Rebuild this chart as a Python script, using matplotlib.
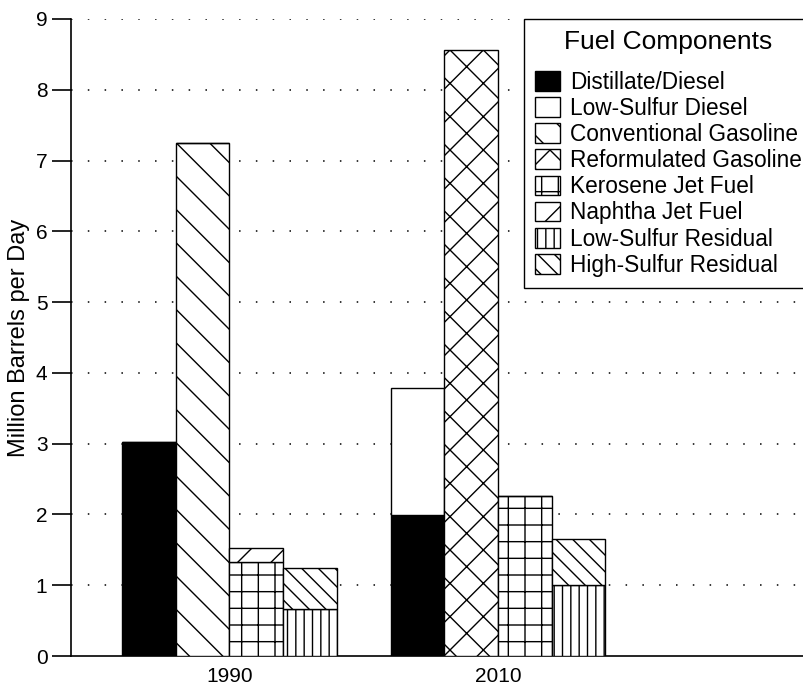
import numpy as np
import matplotlib
matplotlib.use('Agg')
import matplotlib.pyplot as plt
from matplotlib.patches import Patch

plt.rcParams['font.family'] = ['Liberation Sans', 'DejaVu Sans']
plt.rcParams['hatch.linewidth'] = 1.0

years = ['1990', '2010']
distillate = [3.02, 1.99]
low_sulfur_diesel = [0.0, 1.79]
conventional = [7.25, 0.0]
reformulated = [0.0, 8.56]
kerosene = [1.33, 2.26]
naphtha = [0.19, 0.0]
ls_residual = [0.66, 1.0]
hs_residual = [0.59, 0.65]

labels = ['Distillate/Diesel', 'Low-Sulfur Diesel', 'Conventional Gasoline',
          'Reformulated Gasoline', 'Kerosene Jet Fuel', 'Naphtha Jet Fuel',
          'Low-Sulfur Residual', 'High-Sulfur Residual']
hatches = ['', '', '\\', 'x', '+', '/', '||', '\\\\']
faces = ['black', 'white', 'white', 'white', 'white', 'white', 'white', 'white']

fig = plt.figure(figsize=(8.04, 6.90), dpi=100)
ax = fig.add_axes([71 / 804, 34 / 690, 733 / 804, 637 / 690])

centers = np.array([0, 5])
w = 1.0
kw = dict(width=w, edgecolor='black', linewidth=1.0, zorder=3)

# slot 0: diesel, slot 1: gasoline, slot 2: jet fuel, slot 3: residual
x0 = centers - 1.5
ax.bar(x0, distillate, color=faces[0], hatch=hatches[0], **kw)
ax.bar(x0, low_sulfur_diesel, bottom=distillate, color=faces[1], hatch=hatches[1], **kw)
x1 = centers - 0.5
ax.bar(x1, conventional, color=faces[2], hatch=hatches[2], **kw)
ax.bar(x1, reformulated, bottom=conventional, color=faces[3], hatch=hatches[3], **kw)
x2 = centers + 0.5
ax.bar(x2, kerosene, color=faces[4], hatch=hatches[4], **kw)
ax.bar(x2, naphtha, bottom=kerosene, color=faces[5], hatch=hatches[5], **kw)
x3 = centers + 1.5
ax.bar(x3, ls_residual, color=faces[6], hatch=hatches[6], **kw)
ax.bar(x3, hs_residual, bottom=ls_residual, color=faces[7], hatch=hatches[7], **kw)

ax.set_xlim(-2.95, 10.7)
ax.set_ylim(0, 9)
ax.set_yticks(range(10))
ax.set_xticks(centers)
ax.set_xticklabels(years)
ax.tick_params(axis='x', length=0, labelsize=15, pad=8)
ax.tick_params(axis='y', length=14, width=1.2, labelsize=15, direction='out', pad=3)
for y in range(1, 10):
    ax.axhline(y, color='black', linestyle=(0, (1, 10)), linewidth=1.1, zorder=1)
ax.spines['top'].set_visible(False)
ax.spines['right'].set_visible(False)
ax.spines['left'].set_linewidth(1.2)
ax.spines['bottom'].set_linewidth(1.2)
ax.set_ylabel('Million Barrels per Day', fontsize=17, labelpad=4)

handles = [Patch(facecolor=f, edgecolor='black', hatch=h) for f, h in zip(faces, hatches)]
leg = fig.legend(handles, labels, title='Fuel Components', loc='upper left',
                 bbox_to_anchor=(524 / 804, 1 - 19 / 690), bbox_transform=fig.transFigure,
                 fontsize=16.3, title_fontsize=19, fancybox=False, framealpha=1,
                 edgecolor='black', borderaxespad=0, handlelength=1.1, handleheight=0.95,
                 handletextpad=0.45, labelspacing=0.14, borderpad=0.48)
leg.get_frame().set_linewidth(1.0)
leg._legend_box.sep = 12  # extra room under the title, as in the original

fig.savefig('out.png', dpi=100)
